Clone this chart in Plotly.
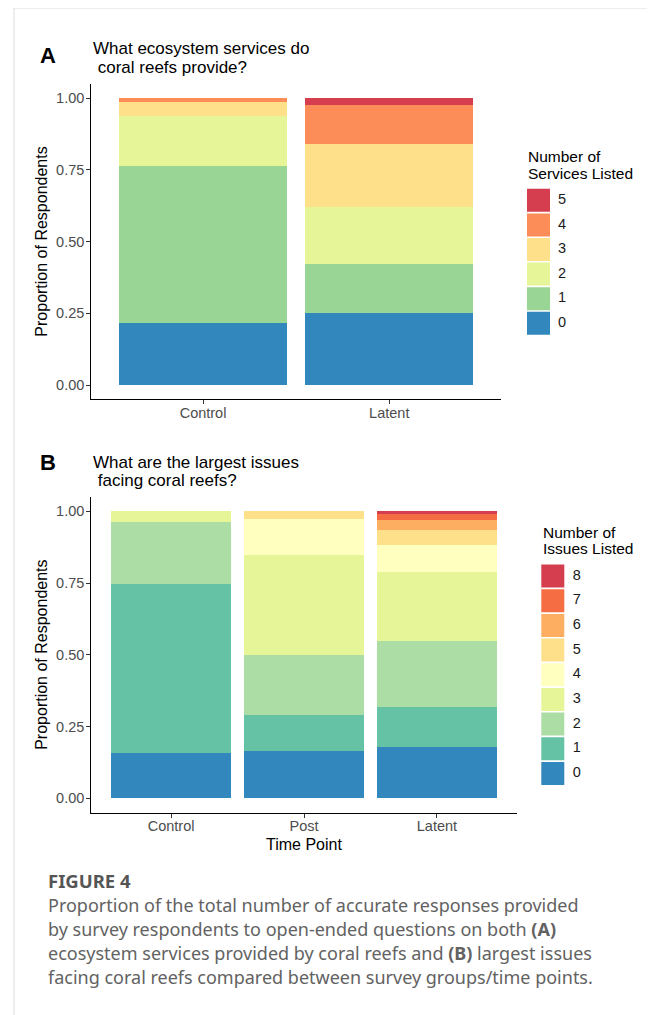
import plotly.graph_objects as go

# ---------------- data ----------------
A_groups = ["Control", "Latent"]
A_levels = ["0", "1", "2", "3", "4", "5"]
A_values = {
    "Control": [0.215, 0.549, 0.174, 0.048, 0.014, 0.0],
    "Latent": [0.252, 0.169, 0.200, 0.221, 0.136, 0.022],
}
A_colors = ["#3288BD", "#99D594", "#E6F598", "#FEE08B", "#FC8D59", "#D53E4F"]

B_groups = ["Control", "Post", "Latent"]
B_levels = ["0", "1", "2", "3", "4", "5", "6", "7", "8"]
B_values = {
    "Control": [0.158, 0.588, 0.216, 0.038, 0.0, 0.0, 0.0, 0.0, 0.0],
    "Post": [0.166, 0.125, 0.208, 0.349, 0.124, 0.028, 0.0, 0.0, 0.0],
    "Latent": [0.180, 0.137, 0.231, 0.241, 0.094, 0.052, 0.034, 0.022, 0.009],
}
B_colors = ["#3288BD", "#66C2A5", "#ABDDA4", "#E6F598", "#FFFFBF",
            "#FEE08B", "#FDAE61", "#F46D43", "#D53E4F"]

y_ticks = [0, 0.25, 0.5, 0.75, 1.0]

# page body has an 8px margin: figure is placed at (8, 8)
OFF = 8
W, H = 647, 1007
FONT = "Liberation Sans, Arial, Helvetica, sans-serif"
CAP_FONT = "Noto Sans, Open Sans, sans-serif"


def px_x(p):
    return (p - OFF) / W


def px_y(p):
    return 1 - (p - OFF) / H


fig = go.Figure()

# ---------------- panel A bars ----------------
for i, lvl in enumerate(A_levels):
    fig.add_trace(go.Bar(
        x=A_groups, y=[A_values[g][i] for g in A_groups],
        marker=dict(color=A_colors[i], line=dict(width=0)),
        xaxis="x", yaxis="y", showlegend=False, name=lvl))

# ---------------- panel B bars ----------------
for i, lvl in enumerate(B_levels):
    fig.add_trace(go.Bar(
        x=B_groups, y=[B_values[g][i] for g in B_groups],
        marker=dict(color=B_colors[i], line=dict(width=0)),
        xaxis="x2", yaxis="y2", showlegend=False, name=lvl))

# ---------------- custom legends (keys on their own axes) ----------------
fig.add_trace(go.Scatter(
    x=[0] * len(A_levels), y=list(range(len(A_levels))), mode="markers",
    marker=dict(symbol="square", size=23, color=A_colors, line=dict(width=0)),
    xaxis="x3", yaxis="y3", showlegend=False, hoverinfo="skip"))
fig.add_trace(go.Scatter(
    x=[19.5] * len(A_levels), y=list(range(len(A_levels))), mode="text",
    text=A_levels, textposition="middle right",
    textfont=dict(family=FONT, size=14.5, color="#1a1a1a"),
    xaxis="x3", yaxis="y3", showlegend=False, hoverinfo="skip"))

fig.add_trace(go.Scatter(
    x=[0] * len(B_levels), y=list(range(len(B_levels))), mode="markers",
    marker=dict(symbol="square", size=23, color=B_colors, line=dict(width=0)),
    xaxis="x4", yaxis="y4", showlegend=False, hoverinfo="skip"))
fig.add_trace(go.Scatter(
    x=[20] * len(B_levels), y=list(range(len(B_levels))), mode="text",
    text=B_levels, textposition="middle right",
    textfont=dict(family=FONT, size=14.5, color="#1a1a1a"),
    xaxis="x4", yaxis="y4", showlegend=False, hoverinfo="skip"))

axis_common = dict(showline=True, linecolor="black", linewidth=1.2,
                   ticks="outside", ticklen=4, tickwidth=1, tickcolor="#333333",
                   showgrid=False, zeroline=False,
                   tickfont=dict(family=FONT, size=14.5, color="#4D4D4D"))

yA_top, yA_bot = 83.97, 399.33
yB_top, yB_bot = 496.95, 812.65

fig.update_layout(
    width=W, height=H,
    margin=dict(l=0, r=0, t=0, b=0),
    paper_bgcolor="white", plot_bgcolor="white",
    barmode="stack", bargap=0.1,
    xaxis=dict(domain=[px_x(91.3), px_x(501)], range=[-0.6, 1.6],
               type="category", anchor="y", ticklabelstandoff=-4, **axis_common),
    yaxis=dict(domain=[px_y(yA_bot), px_y(yA_top)], range=[-0.05, 1.05],
               tickvals=y_ticks, tickformat=".2f", anchor="x", ticklabelstandoff=-1,
               **axis_common),
    xaxis2=dict(domain=[px_x(91.3), px_x(516.7)], range=[-0.6, 2.6],
                type="category", anchor="y2", ticklabelstandoff=-4, **axis_common),
    yaxis2=dict(domain=[px_y(yB_bot), px_y(yB_top)], range=[-0.05, 1.05],
                tickvals=y_ticks, tickformat=".2f", anchor="x2", ticklabelstandoff=-1,
                **axis_common),
    xaxis3=dict(domain=[px_x(527), px_x(640)], range=[-11.5, 101.5],
                visible=False, anchor="y3", fixedrange=True),
    yaxis3=dict(domain=[px_y(335.6), px_y(188)], range=[-0.5, 5.5],
                visible=False, anchor="x3", fixedrange=True),
    xaxis4=dict(domain=[px_x(541), px_x(650)], range=[-11.8, 97.2],
                visible=False, anchor="y4", fixedrange=True),
    yaxis4=dict(domain=[px_y(785.84), px_y(563.66)], range=[-0.5, 8.5],
                visible=False, anchor="x4", fixedrange=True),
)

ann = []


def text(x, y, s, size, color="black", family=FONT, xanchor="left", angle=0, bold=False):
    ann.append(dict(x=px_x(x), y=px_y(y), xref="paper", yref="paper",
                    text=("<b>%s</b>" % s) if bold else s, showarrow=False,
                    xanchor=xanchor, yanchor="middle", textangle=angle,
                    font=dict(family=family, size=size, color=color)))


# panel A texts
text(38, 56, "A", 22, bold=True)
text(91, 48, "What ecosystem services do", 17)
text(91, 67, "\u00a0coral reefs provide?", 17)
text(42, (yA_top + yA_bot) / 2, "Proportion of Respondents", 16, xanchor="center", angle=-90)
text(526, 156, "Number of", 15.5)
text(526, 173, "Services Listed", 15.5)

# panel B texts
text(38, 462, "B", 22, bold=True)
text(91, 462, "What are the largest issues", 17)
text(91, 480, "\u00a0facing coral reefs?", 17)
text(42, (yB_top + yB_bot) / 2, "Proportion of Respondents", 16, xanchor="center", angle=-90)
text(304, 844, "Time Point", 16, xanchor="center")
text(541, 532, "Number of", 15.5)
text(541, 548.5, "Issues Listed", 15.5)

# caption
CAP = "#626262"
text(46, 880, "<b>FIGURE 4</b>", 18.5, color="#555555", family=CAP_FONT)
caption_lines = [
    "Proportion of the total number of accurate responses provided",
    "by survey respondents to open-ended questions on both <b>(A)</b>",
    "ecosystem services provided by coral reefs and <b>(B)</b> largest issues",
    "facing coral reefs compared between survey groups/time points.",
]
for k, line in enumerate(caption_lines):
    text(46, 905 + 24 * k, line, 18, color=CAP, family=CAP_FONT)

fig.update_layout(annotations=ann)

# page frame lines
fig.update_layout(shapes=[
    dict(type="line", xref="paper", yref="paper", x0=px_x(14), x1=1, y0=px_y(8), y1=px_y(8),
         line=dict(color="#dcdcdc", width=1)),
    dict(type="line", xref="paper", yref="paper", x0=px_x(14), x1=px_x(14), y0=px_y(8), y1=0,
         line=dict(color="#dcdcdc", width=1)),
])

fig.write_html("out.html")
